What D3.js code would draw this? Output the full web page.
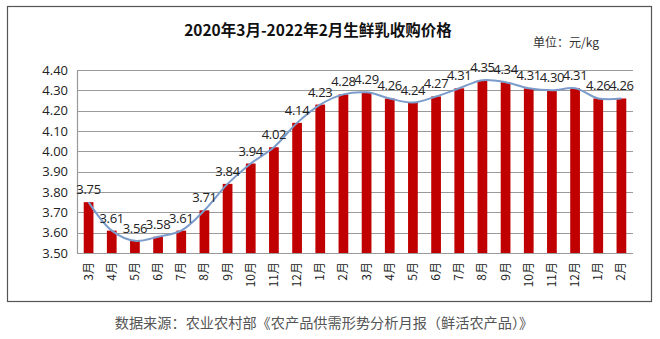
<!DOCTYPE html>
<html>
<head>
<meta charset="utf-8">
<script src="https://cdn.jsdelivr.net/npm/d3@7/dist/d3.min.js"></script>
<style>
  html, body { margin: 0; padding: 0; background: #fff; }
  svg { display: block; font-family: "Noto Sans CJK SC", "Noto Sans", sans-serif; }
</style>
</head>
<body>
<svg id="chart" width="660" height="339"></svg>
<script>
// Monthly raw milk purchase price, Mar 2020 – Feb 2022 (yuan/kg)
const months = ["3月","4月","5月","6月","7月","8月","9月","10月","11月","12月","1月","2月",
                "3月","4月","5月","6月","7月","8月","9月","10月","11月","12月","1月","2月"];
const prices = [3.75, 3.61, 3.56, 3.58, 3.61, 3.71, 3.84, 3.94, 4.02, 4.14, 4.23, 4.28,
                4.29, 4.26, 4.24, 4.27, 4.31, 4.35, 4.34, 4.31, 4.30, 4.31, 4.26, 4.26];
const yTicks = [3.50, 3.60, 3.70, 3.80, 3.90, 4.00, 4.10, 4.20, 4.30, 4.40];

const title = "2020年3月-2022年2月生鲜乳收购价格";
const unit = "单位：元/kg";
const source = "数据来源：农业农村部《农产品供需形势分析月报（鲜活农产品）》";

const svg = d3.select("#chart");
const plot = { left: 77, right: 633, top: 70, bottom: 253 };

// outer frame
svg.append("rect")
  .attr("x", 7.5).attr("y", 6.5)
  .attr("width", 644).attr("height", 295)
  .attr("fill", "#fff").attr("stroke", "#555").attr("stroke-width", 1.2);

const x = d3.scaleBand()
  .domain(d3.range(months.length))
  .range([plot.left, plot.right])
  .paddingInner(0.58).paddingOuter(0.29);

const y = d3.scaleLinear().domain([3.5, 4.4]).range([plot.bottom, plot.top]);

// gridlines
svg.append("g")
  .selectAll("line").data(yTicks).join("line")
  .attr("x1", plot.left).attr("x2", plot.right)
  .attr("y1", d => Math.round(y(d)) + 0.5).attr("y2", d => Math.round(y(d)) + 0.5)
  .attr("stroke", "#9a9a9a").attr("stroke-width", 1.2);

svg.append("line")
  .attr("x1", plot.left + 0.5).attr("x2", plot.left + 0.5)
  .attr("y1", plot.top).attr("y2", plot.bottom)
  .attr("stroke", "#9a9a9a").attr("stroke-width", 1.2);

// y axis labels
const yAxis = d3.axisLeft(y).tickValues(yTicks).tickFormat(d3.format(".2f")).tickSize(0).tickPadding(9);
const gy = svg.append("g").attr("transform", `translate(${plot.left},0)`).call(yAxis);
gy.select(".domain").remove();
gy.selectAll("text")
  .attr("font-size", 13).attr("fill", "#222")
  .attr("font-family", "'Open Sans', 'Noto Sans', sans-serif");

// bars
svg.append("g")
  .selectAll("rect").data(prices).join("rect")
  .attr("x", (d, i) => x(i))
  .attr("width", x.bandwidth())
  .attr("y", d => y(d))
  .attr("height", d => plot.bottom - y(d))
  .attr("fill", "#c00000");

// smoothed trend line
const cx = i => x(i) + x.bandwidth() / 2;
const line = d3.line()
  .x((d, i) => cx(i))
  .y(d => y(d))
  .curve(d3.curveCatmullRom.alpha(0.5));
svg.append("path")
  .datum(prices)
  .attr("d", line)
  .attr("fill", "none")
  .attr("stroke", "#7b9ccb")
  .attr("stroke-width", 2);

// value labels
svg.append("g")
  .selectAll("text").data(prices).join("text")
  .attr("x", (d, i) => cx(i))
  .attr("y", d => y(d) - 8)
  .attr("text-anchor", "middle")
  .attr("font-size", 13)
  .attr("font-family", "'Open Sans', 'Noto Sans', sans-serif")
  .attr("fill", "#222")
  .attr("letter-spacing", "-0.3")
  .text(d => d3.format(".2f")(d));

// x axis month labels, rotated
svg.append("g")
  .selectAll("text").data(months).join("text")
  .attr("transform", (d, i) => `translate(${cx(i) + 4},${plot.bottom + 9}) rotate(-90)`)
  .attr("text-anchor", "end")
  .attr("font-size", 12)
  .attr("fill", "#222")
  .text(d => d);

// title, unit, source
svg.append("text")
  .attr("x", 318).attr("y", 36)
  .attr("text-anchor", "middle")
  .attr("font-size", 15.5).attr("font-weight", "bold").attr("fill", "#111")
  .text(title);

svg.append("text")
  .attr("x", 533).attr("y", 47)
  .attr("font-size", 12).attr("fill", "#333")
  .text(unit);

svg.append("text")
  .attr("x", 324).attr("y", 328)
  .attr("text-anchor", "middle")
  .attr("font-size", 14.2).attr("fill", "#555")
  .text(source);
</script>
</body>
</html>
